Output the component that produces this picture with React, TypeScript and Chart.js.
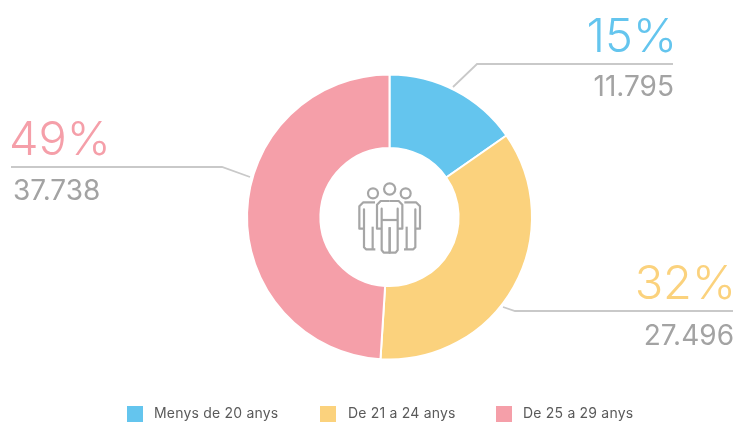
import React, { useEffect, useRef } from "react";
import { Chart, registerables } from "chart.js";

Chart.register(...registerables);

const categories = ["Menys de 20 anys", "De 21 a 24 anys", "De 25 a 29 anys"];
const values = [11795, 27496, 37738];
const valueLabels = ["11.795", "27.496", "37.738"];
const percentLabels = ["15%", "32%", "49%"];
const colors = ["#64c5ee", "#fbd27d", "#f59fa9"];

const FONT = "Inter";
const GREY = "#a3a3a3";
const LINE = "#c9c9c9";

const calloutPlugin = {
  id: "callouts",
  afterDatasetsDraw(chart: any) {
    const ctx = chart.ctx;
    ctx.save();
    const lines = [
      [[453, 87], [477, 64], [673, 64]],
      [[503, 307], [515, 311], [733, 311]],
      [[11, 167], [222, 167], [250, 177]],
    ];
    ctx.strokeStyle = LINE;
    ctx.lineWidth = 1.8;
    lines.forEach((pts) => {
      ctx.beginPath();
      pts.forEach(([x, y], i) => (i ? ctx.lineTo(x, y) : ctx.moveTo(x, y)));
      ctx.stroke();
    });
    const texts = [
      { align: "right", x: 677, pctY: 52, valX: 674, valY: 96 },
      { align: "right", x: 736, pctY: 299, valX: 734, valY: 345 },
      { align: "left", x: 9, pctY: 155, valX: 13, valY: 200 },
    ];
    ctx.textBaseline = "alphabetic";
    texts.forEach((t, i) => {
      ctx.textAlign = t.align;
      ctx.font = `300 47px ${FONT}`;
      ctx.fillStyle = colors[i];
      ctx.fillText(percentLabels[i], t.x, t.pctY);
      ctx.font = `400 28px ${FONT}`;
      ctx.fillStyle = GREY;
      ctx.fillText(valueLabels[i], t.valX, t.valY);
    });

    // legend
    const legendBoxes = [127, 320, 496];
    const legendTexts = [154, 348, 523];
    ctx.textAlign = "left";
    ctx.textBaseline = "middle";
    ctx.font = `400 14px ${FONT}`;
    ctx.letterSpacing = "0.2px";
    categories.forEach((c, i) => {
      ctx.fillStyle = colors[i];
      ctx.fillRect(legendBoxes[i], 406, 16, 16);
      ctx.fillStyle = "#5a5a5a";
      ctx.fillText(c, legendTexts[i], 414);
    });
    ctx.letterSpacing = "0px";

    // central icon, drawn about the doughnut centre
    const meta = chart.getDatasetMeta(0).data[0];
    const cx = meta.x;
    const cy = meta.y;
    const X = (z: number) => cx + (340 + z / 3 - 389.5);
    const Y = (z: number) => cy + (170 + z / 3 - 217);
    ctx.strokeStyle = "#a6a6a6";
    ctx.lineWidth = 2.2;
    ctx.lineJoin = "round";
    const circle = (zx: number, zy: number, r: number) => {
      ctx.beginPath();
      ctx.arc(X(zx), Y(zy), r, 0, Math.PI * 2);
      ctx.stroke();
    };
    circle(149, 57, 5.6);
    circle(99, 70, 5);
    circle(197, 70, 5);
    const path = (pts: number[][]) => {
      ctx.beginPath();
      pts.forEach(([x, y], i) => (i ? ctx.lineTo(X(x), Y(y)) : ctx.moveTo(X(x), Y(y))));
      ctx.stroke();
    };
    const mirror = (pts: number[][]) => pts.map(([x, y]) => [298 - x, y]);
    const centreHalf = [[149, 93], [122, 93], [111, 104], [111, 176], [125, 176], [125, 116], [125, 240], [131, 248], [149, 248], [149, 172]];
    path(centreHalf);
    path(mirror(centreHalf));
    path([[125, 150], [173, 150]]);
    const side = [[105, 97], [70, 97], [58, 109], [58, 176], [72, 176], [72, 118], [72, 232], [78, 238], [106, 238]];
    path(side);
    path(mirror(side));
    path([[98, 170], [98, 238]]);
    path(mirror([[98, 170], [98, 238]]));
    ctx.restore();
  },
};

export default function App() {
  const ref = useRef<HTMLCanvasElement>(null);
  useEffect(() => {
    const chart = new Chart(ref.current!, {
      type: "doughnut",
      data: {
        labels: categories,
        datasets: [
          {
            data: values,
            backgroundColor: colors,
            borderColor: "#ffffff",
            borderWidth: 2,
            hoverOffset: 0,
          },
        ],
      },
      options: {
        responsive: false,
        animation: false,
        radius: 142.5,
        cutout: "48.5%",
        layout: { padding: { left: 44, top: 12 } },
        plugins: {
          tooltip: { enabled: false },
          legend: { display: false },
        },
      } as any,
      plugins: [calloutPlugin],
    });
    return () => chart.destroy();
  }, []);
  return (
    <div style={{ position: "absolute", left: 0, top: 0, width: 735, height: 422, background: "#fff" }}>
      <canvas ref={ref} width={735} height={422} style={{ display: "block" }} />
    </div>
  );
}
